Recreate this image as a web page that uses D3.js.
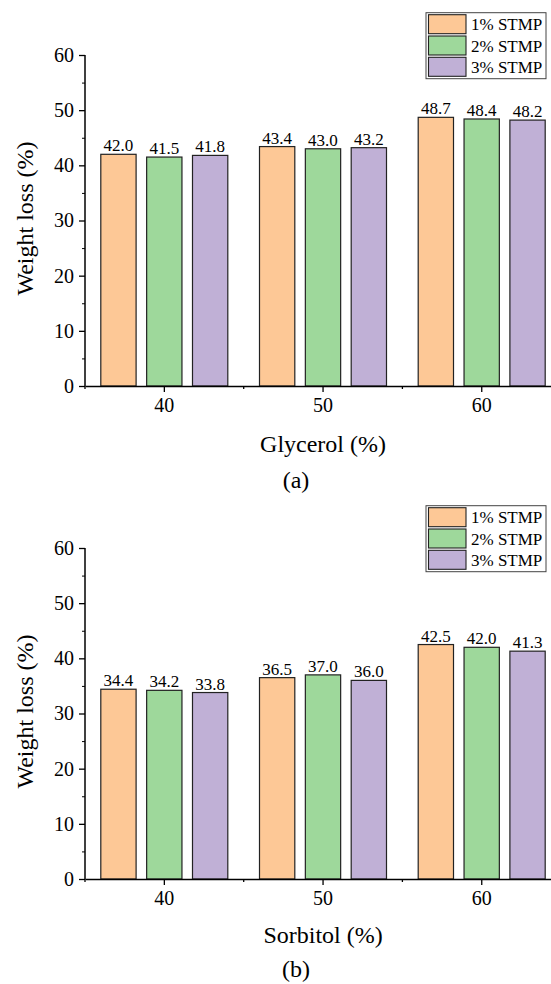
<!DOCTYPE html>
<html>
<head>
<meta charset="utf-8">
<script src="https://cdn.jsdelivr.net/npm/d3@7"></script>
<style>
  body { margin: 0; background: #fff; }
  svg text { font-family: "Liberation Serif", "Times New Roman", serif; fill: #000; }
</style>
</head>
<body>
<svg id="chart" width="551" height="984"></svg>
<script>
// donnees
var categories = ["40", "50", "60"];
var series = ["1% STMP", "2% STMP", "3% STMP"];
var glycerol1 = [42.0, 43.4, 48.7];
var glycerol2 = [41.5, 43.0, 48.4];
var glycerol3 = [41.8, 43.2, 48.2];
var sorbitol1 = [34.4, 36.5, 42.5];
var sorbitol2 = [34.2, 37.0, 42.0];
var sorbitol3 = [33.8, 36.0, 41.3];
var yTicks = [0, 10, 20, 30, 40, 50, 60];
var yMinor = [5, 15, 25, 35, 45, 55];
var couleurs = ["#fdc896", "#9ed89b", "#c0b0d6"];

var svg = d3.select("#chart");

function drawPanel(opt) {
	var g = svg.append("g");
	var x0 = d3.scaleBand().domain(categories).range([85, 85 + 3 * 158.7]);
	var x1 = d3.scaleBand().domain(series).range([15.8, 142.8]).paddingInner(0.23);
	var y = d3.scaleLinear().domain([0, 60]).range([opt.bottom, opt.bottom - 331]);

	var rows = categories.map(function(c, i) {
		return { cat: c, vals: opt.values.map(function(v) { return v[i]; }) };
	});

	// barres
	var grp = g.selectAll(".grp").data(rows).enter().append("g")
		.attr("transform", function(d) { return "translate(" + x0(d.cat) + ",0)"; });
	grp.selectAll("rect").data(function(d) { return d.vals; }).enter().append("rect")
		.attr("x", function(d, i) { return x1(series[i]); })
		.attr("y", function(d) { return y(d); })
		.attr("width", x1.bandwidth())
		.attr("height", function(d) { return y(0) - y(d); })
		.style("fill", function(d, i) { return couleurs[i]; })
		.style("stroke", "#222")
		.style("stroke-width", 1.2);
	grp.selectAll(".val").data(function(d) { return d.vals; }).enter().append("text")
		.attr("class", "val")
		.attr("x", function(d, i) { return x1(series[i]) + x1.bandwidth() / 2; })
		.attr("y", function(d) { return y(d) - 3; })
		.attr("text-anchor", "middle")
		.style("font-size", "17px")
		.text(function(d) { return d.toFixed(1); });

	// axe Y
	var yAxis = g.append("g").attr("transform", "translate(85,0)")
		.call(d3.axisLeft(y).tickValues(yTicks).tickSize(6).tickPadding(5));
	g.append("g").attr("transform", "translate(85,0)")
		.call(d3.axisLeft(y).tickValues(yMinor).tickSize(3).tickFormat(""))
		.select(".domain").remove();
	yAxis.select(".domain").attr("d", "M0," + y(0) + "V" + y(60)).style("stroke-width", 1.5);
	yAxis.selectAll("text").style("font-size", "20px").style("font-family", "Liberation Serif");
	yAxis.selectAll("line").style("stroke-width", 1.3);

	// axe X
	var xAxis = g.append("g").attr("transform", "translate(0," + y(0) + ")")
		.call(d3.axisBottom(x0).tickSize(6).tickPadding(6).tickSizeOuter(0));
	xAxis.select(".domain").style("stroke-width", 1.5);
	xAxis.selectAll("text").style("font-size", "20px").style("font-family", "Liberation Serif");
	xAxis.selectAll("line").style("stroke-width", 1.3);
	g.append("g").attr("transform", "translate(0," + y(0) + ")")
		.selectAll("line").data(x0.domain().map(function(c) { return x0(c); }))
		.enter().append("line")
		.attr("x1", function(d) { return d; }).attr("x2", function(d) { return d; })
		.attr("y1", 0).attr("y2", 3)
		.style("stroke", "#000").style("stroke-width", 1.3);

	// titres
	g.append("text")
		.attr("transform", "translate(33," + (y(30) - 2) + ") rotate(-90)")
		.attr("text-anchor", "middle")
		.style("font-size", "24px")
		.text("Weight loss (%)");
	g.append("text")
		.attr("x", x0("50") + x0.bandwidth() / 2)
		.attr("y", y(0) + opt.titleGap)
		.attr("text-anchor", "middle")
		.style("font-size", "24px")
		.text(opt.xTitle);
	g.append("text")
		.attr("x", 296)
		.attr("y", y(0) + opt.labelGap)
		.attr("text-anchor", "middle")
		.style("font-size", "24px")
		.text(opt.label);

	// legende
	var top = opt.bottom - 373.3;
	var leg = g.append("g");
	leg.append("rect")
		.attr("x", 426).attr("y", top).attr("width", 120).attr("height", 66)
		.style("fill", "#fff").style("stroke", "#444").style("stroke-width", 1);
	series.forEach(function(s, i) {
		leg.append("rect")
			.attr("x", 428.5).attr("y", top + 2 + i * 21.3).attr("width", 37.5).attr("height", 19)
			.style("fill", couleurs[i]).style("stroke", "#222").style("stroke-width", 1.1);
		leg.append("text")
			.attr("x", 471).attr("y", top + 2 + i * 21.3 + 15.5)
			.style("font-size", "17px")
			.text(s);
	});
}

drawPanel({ bottom: 386, values: [glycerol1, glycerol2, glycerol3], xTitle: "Glycerol (%)", label: "(a)", titleGap: 66, labelGap: 102 });
drawPanel({ bottom: 879, values: [sorbitol1, sorbitol2, sorbitol3], xTitle: "Sorbitol (%)", label: "(b)", titleGap: 64, labelGap: 98 });
</script>
</body>
</html>
